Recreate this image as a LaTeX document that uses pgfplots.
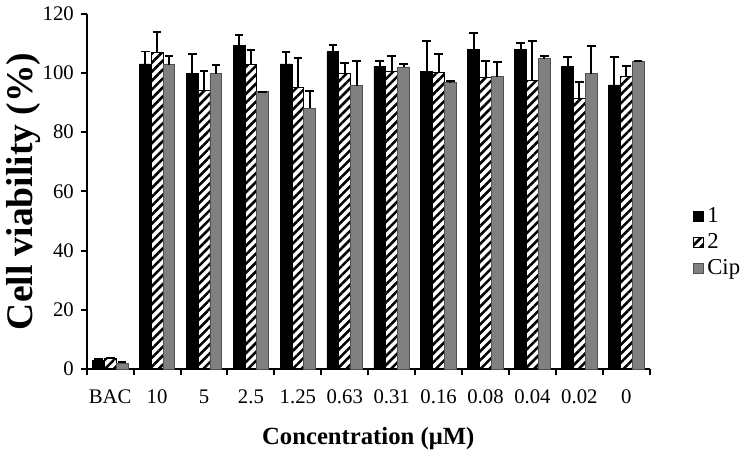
\documentclass[border=0pt]{standalone}
\usepackage{pgfplots}
\pgfplotsset{compat=1.18}
\usepackage{pgfplotstable}
\usepackage{fontspec}
\setmainfont{Liberation Serif}
\usetikzlibrary{patterns.meta}
\definecolor{cipgray}{HTML}{808080}
\definecolor{cipedge}{HTML}{505050}

\pgfplotstableread{
x y e
0 3.0 0.5
1 103.0 4.2
2 99.7 6.7
3 109.2 3.6
4 103.0 3.9
5 107.2 2.2
6 102.2 1.9
7 100.6 10.2
8 108.0 5.6
9 108.0 2.2
10 102.2 3.0
11 95.9 9.3
}\seriesone
\pgfplotstableread{
x y e
0 3.5 0.4
1 106.9 7.0
2 94.2 6.4
3 102.8 5.0
4 95.0 10.0
5 99.7 3.6
6 100.6 5.2
7 100.0 6.3
8 98.6 5.5
9 97.4 13.2
10 91.3 5.6
11 98.9 3.5
}\seriestwo
\pgfplotstableread{
x y e
0 2.0 0.3
1 102.8 3.0
2 99.7 3.1
3 93.6 0.0
4 88.0 5.9
5 95.6 8.5
6 102.0 1.1
7 96.7 0.5
8 98.7 4.9
9 104.8 1.0
10 99.7 9.2
11 103.9 0.2
}\seriescip

\begin{document}
\begin{tikzpicture}
\begin{axis}[
  scale only axis,
  width=285pt, height=180pt,
  ybar=0pt, bar width=6pt,
  xmin=-0.5, xmax=11.5,
  ymin=0, ymax=120,
  axis x line*=bottom, axis y line*=left,
  axis line style={line width=1pt},
  xtick={0,...,11},
  xticklabels={BAC,10,5,2.5,1.25,0.63,0.31,0.16,0.08,0.04,0.02,0},
  major x tick style={draw=none},
  minor xtick={-0.5,0.5,...,11.5},
  minor tick length=3pt,
  major tick length=3pt,
  tick align=outside,
  tick style={black, line width=1pt},
  ytick={0,20,...,120},
  xticklabel style={yshift=-4pt},
  ticklabel style={font=\fontsize{10.5}{12}\selectfont},
  /pgf/number format/assume math mode=true,
  xlabel={\textbf{Concentration (μM)}},
  ylabel={\textbf{Cell viability (\%)}},
  xlabel style={font=\fontsize{12.5}{14}\selectfont, at={(axis description cs:0.5,-0.194)}, anchor=center},
  ylabel style={font=\fontsize{19}{21}\selectfont, at={(axis description cs:-0.112,0.5)}, anchor=center},
  error bars/y dir=plus, error bars/y explicit,
  error bars/error bar style={black, line width=1pt},
  error bars/error mark options={rotate=90, mark size=2.2pt, line width=1pt},
  legend style={draw=none, fill=none, at={(rel axis cs:1.065,0.356)}, anchor=west,
    font=\fontsize{11.5}{13}\selectfont, row sep=0pt,
    /tikz/every even column/.append style={column sep=1pt}},
  legend cell align=left,
  legend image code/.code={\draw[#1] (0pt,-2.5pt) rectangle (5pt,2.5pt);},
]
\addplot[fill=black, draw=black] table[x=x, y=y, y error=e] {\seriesone};
\addlegendentry{1}
\addplot[draw=black, pattern={Lines[angle=45,distance=3.2pt,line width=1.3pt]}, pattern color=black] table[x=x, y=y, y error=e] {\seriestwo};
\addlegendentry{2}
\addplot[fill=cipgray, draw=cipedge] table[x=x, y=y, y error=e] {\seriescip};
\addlegendentry{Cip}
\end{axis}
\end{tikzpicture}
\end{document}
